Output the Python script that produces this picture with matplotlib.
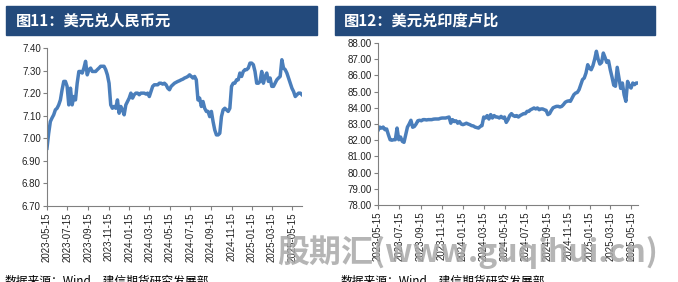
import numpy as np
import pandas as pd
import matplotlib
matplotlib.use("Agg")
import matplotlib.pyplot as plt
import matplotlib.dates as mdates
from matplotlib.patches import Rectangle

plt.rcParams['font.family'] = ['Liberation Sans', 'Noto Sans CJK SC', 'DejaVu Sans']

# 美元兑人民币 (每5天读一个点)
usdcny = [
    6.956, 7.022, 7.074, 7.090, 7.104, 7.126, 7.133, 7.148, 7.170, 7.215,
    7.252, 7.252, 7.230, 7.148, 7.222, 7.148, 7.185, 7.170, 7.244, 7.296,
    7.296, 7.289, 7.311, 7.341, 7.281, 7.304, 7.311, 7.296, 7.296, 7.296,
    7.304, 7.311, 7.319, 7.319, 7.319, 7.304, 7.281, 7.244, 7.148, 7.133,
    7.141, 7.133, 7.170, 7.111, 7.141, 7.126, 7.104, 7.148, 7.163, 7.178,
    7.200, 7.178, 7.193, 7.200, 7.200, 7.193, 7.200, 7.200, 7.200, 7.196,
    7.200, 7.185, 7.207, 7.230, 7.237, 7.237, 7.237, 7.244, 7.244, 7.240,
    7.244, 7.237, 7.222, 7.215, 7.230, 7.237, 7.244, 7.248, 7.252, 7.255,
    7.259, 7.262, 7.267, 7.270, 7.274, 7.281, 7.274, 7.267, 7.274, 7.259,
    7.170, 7.178, 7.141, 7.163, 7.133, 7.119, 7.119, 7.096, 7.119, 7.074,
    7.037, 7.015, 7.015, 7.022, 7.096, 7.126, 7.133, 7.126, 7.119, 7.133,
    7.230, 7.244, 7.244, 7.259, 7.259, 7.289, 7.274, 7.296, 7.304, 7.304,
    7.311, 7.333, 7.333, 7.326, 7.296, 7.244, 7.244, 7.252, 7.296, 7.244,
    7.274, 7.289, 7.252, 7.267, 7.230, 7.230, 7.244, 7.259, 7.267, 7.274,
    7.348, 7.311, 7.304, 7.289, 7.267, 7.244, 7.222, 7.207, 7.185, 7.193,
    7.200, 7.200, 7.193,
]

# 美元兑印度卢比
usdinr = [
    82.60, 82.81, 82.75, 82.81, 82.65, 82.69, 82.34, 82.03, 82.00, 82.03,
    82.03, 82.75, 82.03, 82.20, 81.93, 81.87, 82.34, 82.81, 83.00, 83.23,
    82.80, 82.85, 83.00, 83.20, 83.23, 83.20, 83.27, 83.27, 83.25, 83.27,
    83.27, 83.27, 83.30, 83.31, 83.31, 83.31, 83.35, 83.37, 83.37, 83.37,
    83.40, 83.43, 83.05, 83.27, 83.15, 83.20, 83.05, 83.15, 83.00, 82.96,
    83.00, 83.05, 83.00, 82.96, 82.90, 82.88, 82.81, 82.78, 82.75, 82.85,
    82.90, 83.43, 83.37, 83.52, 83.31, 83.58, 83.37, 83.52, 83.43, 83.43,
    83.37, 83.47, 83.37, 83.43, 83.10, 83.27, 83.52, 83.64, 83.52, 83.47,
    83.52, 83.43, 83.52, 83.58, 83.64, 83.64, 83.78, 83.78, 83.88, 83.93,
    83.99, 83.93, 83.99, 83.88, 83.93, 83.93, 83.88, 83.84, 83.58, 83.64,
    83.84, 84.00, 84.05, 84.09, 84.09, 84.05, 84.09, 84.20, 84.34, 84.40,
    84.43, 84.40, 84.60, 84.81, 84.91, 84.95, 85.12, 85.43, 85.74, 85.84,
    86.15, 86.66, 86.45, 86.35, 86.60, 87.00, 87.49, 87.00, 86.70, 86.80,
    87.38, 87.10, 86.80, 86.90, 86.35, 85.90, 85.40, 85.33, 86.50, 85.85,
    85.20, 85.53, 84.80, 84.40, 85.63, 85.33, 85.22, 85.53, 85.43, 85.53,
    85.53,
]

start = '2023-05-15'
tick_dates = pd.date_range('2023-05-01', '2025-05-01', freq='2MS') + pd.Timedelta(days=14)

titles = ['图11：美元兑人民币元', '图12：美元兑印度卢比']
source = '数据来源：Wind，建信期货研究发展部'
line_color = '#4a7ebb'
banner_color = '#234a7c'

fig = plt.figure(figsize=(6.78, 2.82), dpi=100)

panels = [
    dict(data=usdcny, rect=[0.0693, 0.2695, 0.3761, 0.5603], ylim=(6.70, 7.40), step=0.10,
         banner=(6, 311), title_x=16, src_x=5),
    dict(data=usdinr, rect=[0.5575, 0.2730, 0.3835, 0.5745], ylim=(78.0, 88.0), step=1.0,
         banner=(335, 320), title_x=344, src_x=341),
]

for p, title in zip(panels, titles):
    dates = pd.date_range(start, periods=len(p['data']), freq='5D')
    ax = fig.add_axes(p['rect'])
    ax.plot(dates, p['data'], color=line_color, lw=2.5, solid_joinstyle='round')
    ax.set_ylim(*p['ylim'])
    ax.set_yticks(np.arange(p['ylim'][0], p['ylim'][1] + p['step'] / 2, p['step']))
    ax.yaxis.set_major_formatter(plt.FuncFormatter(lambda v, _: f'{v:.2f}'))
    ax.set_xlim(dates[0], dates[-1])
    ax.set_xticks(tick_dates)
    ax.xaxis.set_major_formatter(mdates.DateFormatter('%Y-%m-%d'))
    plt.setp(ax.get_xticklabels(), rotation=90)
    ax.tick_params(axis='both', labelsize=7, length=3, width=0.8, color='#808080',
                   pad=1.5, labelcolor='#222222')
    for s in ['top', 'right']:
        ax.spines[s].set_visible(False)
    for s in ['left', 'bottom']:
        ax.spines[s].set_color('#808080')
        ax.spines[s].set_linewidth(0.8)

    x0, w = p['banner']
    fig.patches.append(Rectangle((x0 / 678, 1 - 35 / 282), w / 678, 29 / 282,
                                 transform=fig.transFigure, color=banner_color, zorder=0))
    fig.text(p['title_x'] / 678, 1 - 20.5 / 282, title, color='white', fontsize=11,
             fontweight='heavy', va='center', ha='left', family=['Noto Sans CJK SC', 'DejaVu Sans'])
    fig.text(p['src_x'] / 678, 1 - 281 / 282, source, fontsize=8.5, style='italic',
             va='center', ha='left', family=['Noto Sans CJK SC', 'DejaVu Sans'])

# 水印
fig.text(277 / 678, 1 - 252 / 282, '股期汇(www.guqihui.cn)', fontsize=23, fontweight='bold',
         style='italic', color='#a8a8a8', alpha=0.85, va='center', ha='left', zorder=10,
         family=['Noto Sans CJK SC', 'DejaVu Sans'])

fig.savefig('out.png', dpi=100)
